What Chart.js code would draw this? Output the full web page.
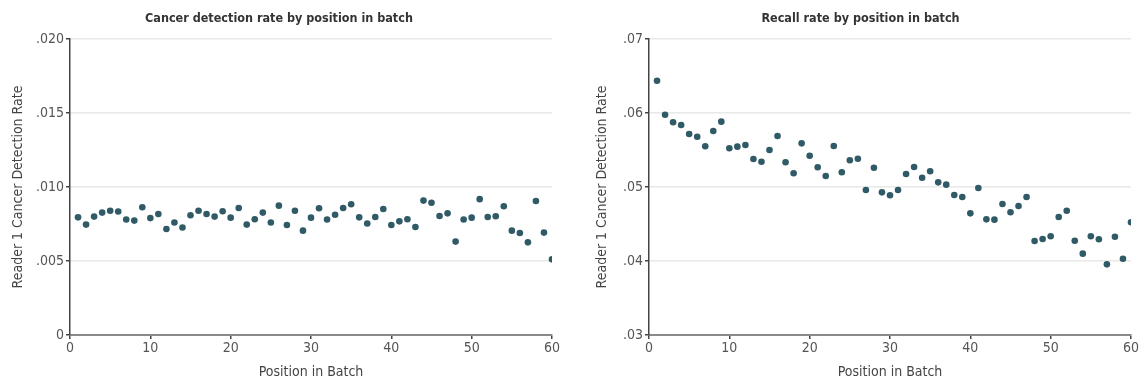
<!DOCTYPE html>
<html>
<head>
<meta charset="utf-8">
<script src="https://cdn.jsdelivr.net/npm/chart.js@4.4.1/dist/chart.umd.min.js"></script>
<style>
  body { margin: 0; background: #fff; }
  .panel { position: absolute; top: 0; width: 571px; height: 385px; }
  #leftPanel { left: 0; }
  #rightPanel { left: 571px; }
</style>
</head>
<body>
<div class="panel" id="leftPanel"><canvas id="cancerChart" width="571" height="385"></canvas></div>
<div class="panel" id="rightPanel"><canvas id="recallChart" width="571" height="385"></canvas></div>
<script>
// Position of the read within a batch (x values)
const positions = [
  1, 2, 3, 4, 5, 6, 7, 8, 9, 10,
  11, 12, 13, 14, 15, 16, 17, 18, 19, 20,
  21, 22, 23, 24, 25, 26, 27, 28, 29, 30,
  31, 32, 33, 34, 35, 36, 37, 38, 39, 40,
  41, 42, 43, 44, 45, 46, 47, 48, 49, 50,
  51, 52, 53, 54, 55, 56, 57, 58, 59, 60
];

// Cancer detection rate at each position
const cancerRates = [
  0.00795, 0.00746, 0.0080, 0.00827, 0.0084, 0.00834, 0.0078, 0.00773, 0.00863, 0.0079,
  0.00818, 0.00716, 0.0076, 0.00726, 0.00809, 0.0084, 0.00818, 0.0080, 0.00836, 0.00793,
  0.00858, 0.00746, 0.00782, 0.00827, 0.0076, 0.00874, 0.00743, 0.0084, 0.00705, 0.00793,
  0.00856, 0.0078, 0.00813, 0.00858, 0.00883, 0.00795, 0.00753, 0.00797, 0.00851, 0.00743,
  0.00768, 0.00782, 0.0073, 0.00908, 0.00894, 0.00804, 0.00822, 0.00631, 0.0078, 0.00793,
  0.00918, 0.00797, 0.00802, 0.0087, 0.00705, 0.00689, 0.00626, 0.00905, 0.00692, 0.00511
];

// Recall rate at each position
const recallRates = [
  0.06436, 0.05977, 0.05874, 0.05838, 0.05716, 0.0568, 0.0555, 0.05757, 0.05883, 0.05523,
  0.05545, 0.05568, 0.05378, 0.05342, 0.055, 0.05689, 0.05334, 0.05185, 0.0559, 0.05423,
  0.05266, 0.05149, 0.05554, 0.05199, 0.05361, 0.05382, 0.04959, 0.0526, 0.04928, 0.04888,
  0.04959, 0.05176, 0.0527, 0.05126, 0.05212, 0.05063, 0.05032, 0.04892, 0.04865, 0.04644,
  0.04986, 0.04563, 0.04559, 0.0477, 0.04658, 0.04743, 0.04865, 0.0427, 0.04297, 0.04334,
  0.04595, 0.0468, 0.04274, 0.04099, 0.04334, 0.04293, 0.03955, 0.04328, 0.04031, 0.04523
];

// Tick values and their printed labels
const xTicks = [0, 10, 20, 30, 40, 50, 60];
const cancerTicks = [0, 0.005, 0.01, 0.015, 0.02];
const cancerTickLabels = ["0", ".005", ".010", ".015", ".020"];
const recallTicks = [0.03, 0.04, 0.05, 0.06, 0.07];
const recallTickLabels = [".03", ".04", ".05", ".06", ".07"];

Chart.defaults.font.family = "'Liberation Sans Narrow', 'DejaVu Sans Condensed', 'Open Sans', sans-serif";
Chart.defaults.color = "#555";

const dotColor = "#2f5a66";

// Build one scatter panel
function makePanel(canvasId, title, values, yTicks, yLabels, padLeft, axisWidth) {
  const ctx = document.getElementById(canvasId).getContext("2d");
  return new Chart(ctx, {
    type: "scatter",
    data: {
      datasets: [{
        data: positions.map((p, i) => ({ x: p, y: values[i] })),
        backgroundColor: dotColor,
        borderColor: dotColor,
        pointRadius: 3.3,
        pointBorderWidth: 0
      }]
    },
    options: {
      responsive: false,
      animation: false,
      layout: { padding: { left: padLeft, right: 571 - padLeft - axisWidth - 482, top: 0, bottom: 0 } },
      plugins: {
        legend: { display: false },
        tooltip: { enabled: false },
        title: {
          display: true,
          text: title,
          color: "#333",
          font: { size: 12.5, weight: "bold" },
          padding: { top: 11, bottom: 13 }
        }
      },
      scales: {
        x: {
          type: "linear",
          min: 0,
          max: 60,
          afterBuildTicks: (scale) => { scale.ticks = xTicks.map(v => ({ value: v })); },
          afterFit: (scale) => { scale.height = 50; },
          border: { color: "#8a8a8a", width: 2 },
          grid: { drawOnChartArea: false, tickLength: 4, tickColor: "#444", lineWidth: 1.5 },
          ticks: { font: { size: 14 }, padding: 1 },
          title: { display: true, text: "Position in Batch", font: { size: 14 }, color: "#444", padding: { top: 1 } }
        },
        y: {
          type: "linear",
          min: yTicks[0],
          max: yTicks[yTicks.length - 1],
          afterBuildTicks: (scale) => { scale.ticks = yTicks.map(v => ({ value: v })); },
          afterFit: (scale) => { scale.width = axisWidth; },
          border: { color: "#444", width: 1.5 },
          grid: { color: "#e8e8e8", lineWidth: 1.5, tickLength: 4, tickColor: "#444" },
          ticks: {
            font: { size: 14 },
            padding: 2,
            callback: (value) => {
              const i = yTicks.findIndex(t => Math.abs(t - value) < 1e-9);
              return i >= 0 ? yLabels[i] : "";
            }
          },
          title: { display: true, text: "Reader 1 Cancer Detection Rate", font: { size: 14 }, color: "#444", padding: { bottom: 4 } }
        }
      }
    }
  });
}

makePanel("cancerChart", "Cancer detection rate by position in batch", cancerRates, cancerTicks, cancerTickLabels, 6, 64);
makePanel("recallChart", "Recall rate by position in batch", recallRates, recallTicks, recallTickLabels, 19, 59);
</script>
</body>
</html>
